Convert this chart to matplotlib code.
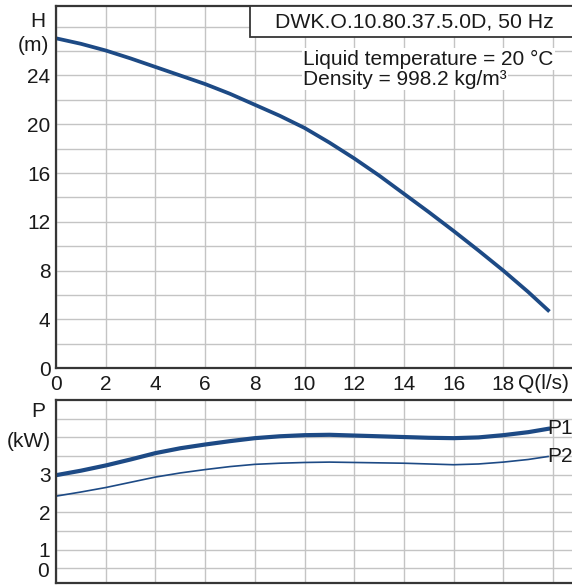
import numpy as np
import matplotlib
matplotlib.use('Agg')
import matplotlib.pyplot as plt
from matplotlib.patches import Rectangle

plt.rcParams['font.family'] = ['Liberation Sans', 'DejaVu Sans']

# --- curve readings (Q in l/s) ---
q_h = [0, 1, 2, 3, 4, 5, 6, 7, 8, 9, 10, 11, 12, 13, 14, 15, 16, 17, 18, 19, 19.8]
head = [27.05, 26.6, 26.05, 25.4, 24.7, 24.0, 23.3, 22.5, 21.6, 20.7, 19.7,
        18.5, 17.2, 15.8, 14.3, 12.8, 11.25, 9.65, 8.0, 6.25, 4.75]

q_p = [0, 1, 2, 3, 4, 5, 6, 7, 8, 9, 10, 11, 12, 13, 14, 15, 16, 17, 18, 19, 19.8]
p1 = [2.99, 3.11, 3.25, 3.41, 3.58, 3.71, 3.81, 3.90, 3.98, 4.03, 4.06,
      4.07, 4.05, 4.03, 4.01, 3.99, 3.98, 4.00, 4.06, 4.14, 4.23]
p2 = [2.43, 2.54, 2.66, 2.80, 2.94, 3.05, 3.14, 3.22, 3.28, 3.31, 3.33,
      3.34, 3.33, 3.32, 3.31, 3.29, 3.27, 3.29, 3.34, 3.41, 3.49]

x_ticks = [0, 2, 4, 6, 8, 10, 12, 14, 16, 18]
h_ticks = [0, 4, 8, 12, 16, 20, 24]
p_ticks = [1, 2, 3]

title = "DWK.O.10.80.37.5.0D, 50 Hz"
info = ["Liquid temperature = 20 °C", "Density = 998.2 kg/m³"]

line_col = '#1d4a85'
txt_col = '#1a1a1a'
grid_col = '#c4c4c4'
spine_col = '#363636'
fs = 15

fig = plt.figure(figsize=(5.72, 5.86), dpi=100)
ax_h = fig.add_axes([0.0979, 0.3717, 0.902, 0.6181])
ax_p = fig.add_axes([0.0979, 0.0046, 0.902, 0.3128])

for ax in (ax_h, ax_p):
    ax.set_xlim(0, 20.76)
    ax.set_xticks(np.arange(0, 21, 2), minor=True)
    ax.grid(True, which='both', color=grid_col, lw=1.0)
    ax.tick_params(which='both', length=0, colors=txt_col, labelsize=fs)
    ax.spines['right'].set_visible(False)
    for s in ('left', 'top', 'bottom'):
        ax.spines[s].set_color(spine_col)
        ax.spines[s].set_linewidth(1.6)
    ax.set_axisbelow(True)

# --- head curve ---
ax_h.set_ylim(0, 29.7)
ax_h.set_yticks(h_ticks)
ax_h.set_yticks(np.arange(2, 29, 2), minor=True)
ax_h.set_xticks(x_ticks)
ax_h.tick_params(axis='x', pad=5)
ax_h.tick_params(axis='y', pad=4)
ax_h.plot(q_h, head, color=line_col, lw=2.7)

ax_h.text(-0.02, 0.958, "H", transform=ax_h.transAxes, ha='right', va='center', fontsize=fs, color=txt_col)
ax_h.text(-0.014, 0.89, "(m)", transform=ax_h.transAxes, ha='right', va='center', fontsize=fs, color=txt_col)
ax_h.text(0.995, -0.042, "Q(l/s)", transform=ax_h.transAxes, ha='right', va='center', fontsize=fs,
          color=txt_col, clip_on=False)

box = Rectangle((0.376, 0.9136), 0.7, 0.0864, transform=ax_h.transAxes, facecolor='white',
                edgecolor=spine_col, lw=1.3, clip_on=False, zorder=4)
ax_h.add_patch(box)
ax_h.text(0.4244, 0.956, title, transform=ax_h.transAxes, ha='left', va='center', fontsize=15.3,
          color=txt_col, zorder=5)
ax_h.text(0.4787, 0.853, info[0], transform=ax_h.transAxes, ha='left', va='center', fontsize=15.0,
          color=txt_col, zorder=5, bbox=dict(facecolor='white', edgecolor='none', pad=1))
ax_h.text(0.4787, 0.797, info[1], transform=ax_h.transAxes, ha='left', va='center', fontsize=15.0,
          color=txt_col, zorder=5, bbox=dict(facecolor='white', edgecolor='none', pad=1))

# --- power curves ---
ax_p.set_ylim(0.1, 5.0)
ax_p.set_yticks(p_ticks)
ax_p.set_yticks(np.arange(0.5, 5.0, 0.5), minor=True)
ax_p.set_xticks([])
ax_p.tick_params(axis='y', pad=4)
ax_p.plot(q_p, p1, color=line_col, lw=3.0)
ax_p.plot(q_p, p2, color=line_col, lw=1.2)
ax_p.text(q_p[-1] - 0.05, p1[-1], "P1", ha='left', va='center', fontsize=fs, color=txt_col)
ax_p.text(q_p[-1] - 0.05, p2[-1], "P2", ha='left', va='center', fontsize=fs, color=txt_col)

ax_p.text(-0.02, 0.935, "P", transform=ax_p.transAxes, ha='right', va='center', fontsize=fs, color=txt_col)
ax_p.text(-0.01, 0.775, "(kW)", transform=ax_p.transAxes, ha='right', va='center', fontsize=fs, color=txt_col)
ax_p.text(-0.013, 0.42, "0", transform=ax_p.get_yaxis_transform(), ha='right', va='center',
          fontsize=fs, color=txt_col)

fig.savefig("out.png", dpi=100)
